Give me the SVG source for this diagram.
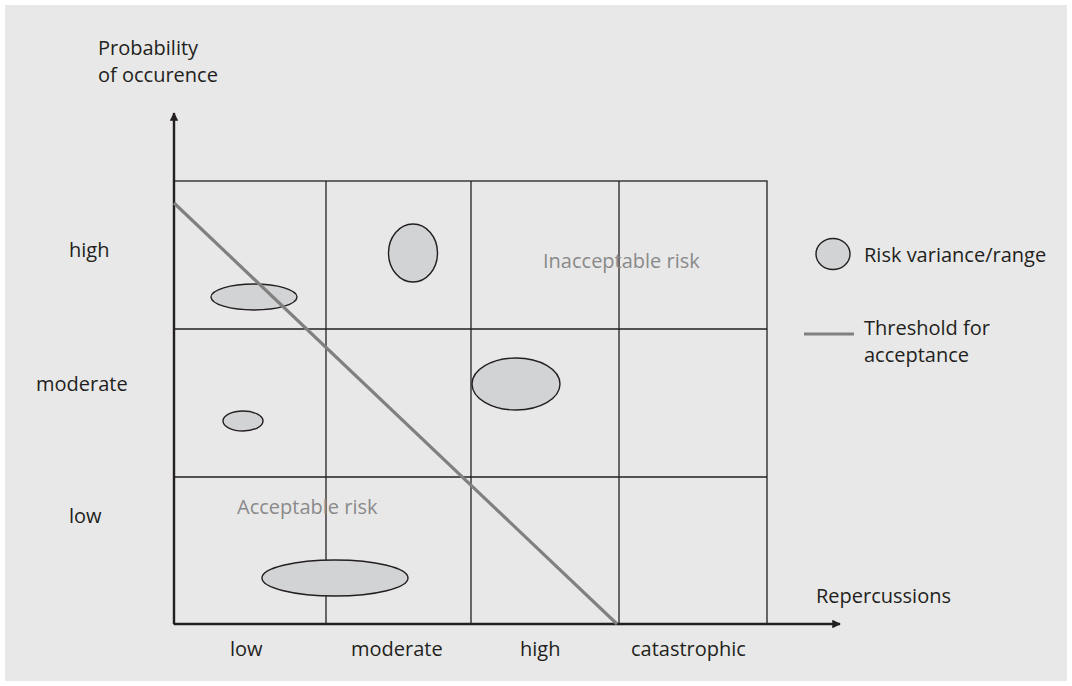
<svg xmlns="http://www.w3.org/2000/svg" width="1072" height="686" viewBox="0 0 1072 686">
<defs>
<style>
.t{font-family:"Open Sans","Liberation Sans",sans-serif;font-size:20px;fill:#231f20}
.g{font-family:"Open Sans","Liberation Sans",sans-serif;font-size:20px;fill:#8a8a8a}
.grid{stroke:#231f20;stroke-width:1.3;fill:none}
.axis{stroke:#231f20;stroke-width:2.4;fill:none}
.risk{fill:#d2d3d5;stroke:#231f20;stroke-width:1.4}
.thr{stroke:#808080;stroke-width:3.2;fill:none}
</style>
<marker id="ah" viewBox="0 0 10 10" refX="9" refY="5" markerWidth="3.6" markerHeight="3.6" orient="auto" markerUnits="strokeWidth">
<path d="M0,0 L10,5 L0,10 z" fill="#231f20"/>
</marker>
</defs>
<rect x="0" y="0" width="1072" height="686" fill="#ffffff"/>
<rect x="5" y="5" width="1062" height="676" fill="#e8e8e8"/>
<g id="grid">
<rect class="grid" x="174" y="181" width="593" height="443"/>
<line class="grid" x1="326" y1="181" x2="326" y2="624"/>
<line class="grid" x1="471" y1="181" x2="471" y2="624"/>
<line class="grid" x1="619" y1="181" x2="619" y2="624"/>
<line class="grid" x1="174" y1="329" x2="767" y2="329"/>
<line class="grid" x1="174" y1="477" x2="767" y2="477"/>
</g>
<g id="region-labels">
<text class="g" x="543" y="268">Inacceptable risk</text>
<text class="g" x="237" y="514">Acceptable risk</text>
</g>
<g id="risks">
<ellipse class="risk" cx="254" cy="297" rx="43" ry="13"/>
<ellipse class="risk" cx="413" cy="253" rx="24.5" ry="29"/>
<ellipse class="risk" cx="516" cy="384" rx="44" ry="26"/>
<ellipse class="risk" cx="243" cy="421" rx="20" ry="10"/>
<ellipse class="risk" cx="335" cy="578" rx="73" ry="18"/>
</g>
<g id="connectors">
<line class="axis" x1="174" y1="624" x2="174" y2="113" marker-end="url(#ah)"/>
<line class="axis" x1="174" y1="624" x2="840" y2="624" marker-end="url(#ah)"/>
<line class="thr" x1="174" y1="203" x2="617" y2="624"/>
</g>
<g id="axis-labels">
<text class="t" x="98" y="55">Probability</text>
<text class="t" x="98" y="82">of occurence</text>
<text class="t" x="816" y="603">Repercussions</text>
<text class="t" x="69" y="257">high</text>
<text class="t" x="36" y="391">moderate</text>
<text class="t" x="69" y="523">low</text>
<text class="t" x="230" y="656">low</text>
<text class="t" x="351" y="656">moderate</text>
<text class="t" x="520" y="656">high</text>
<text class="t" x="631" y="656">catastrophic</text>
</g>
<g id="legend">
<ellipse class="risk" cx="833" cy="254" rx="17" ry="15.5"/>
<text class="t" x="864" y="262">Risk variance/range</text>
<line class="thr" x1="804" y1="334" x2="854" y2="334"/>
<text class="t" x="864" y="335">Threshold for</text>
<text class="t" x="864" y="362">acceptance</text>
</g>
</svg>
